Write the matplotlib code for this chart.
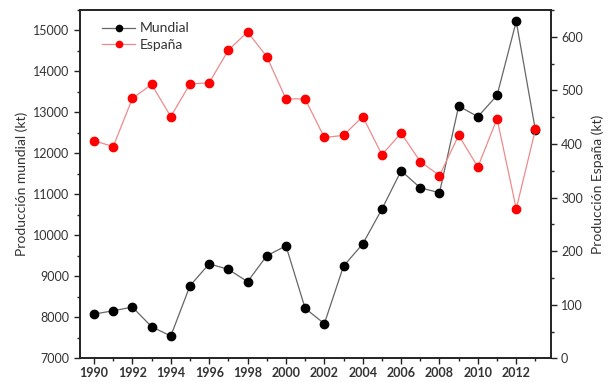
import matplotlib.pyplot as plt
from matplotlib.ticker import MultipleLocator
from matplotlib.lines import Line2D

plt.rcParams['font.family'] = ['Lato', 'DejaVu Sans']

years = list(range(1990, 2014))
mundial = [8080, 8160, 8250, 7770, 7545, 8770, 9305, 9170, 8870, 9500, 9745, 8220,
           7845, 9250, 9790, 10640, 11575, 11160, 11040, 13155, 12895, 13415, 15220, 12560]
espana = [406, 395, 485, 511, 451, 512, 514, 575, 609, 563, 484, 484,
          412, 416, 451, 380, 420, 367, 341, 416, 357, 447, 279, 427]

TXT = "#333333"
BLACK_LINE = "#666666"
RED_LINE = "#f08a8a"

fig = plt.figure(figsize=(6.08, 3.82), dpi=100)
ax = fig.add_axes([0.1316, 0.062, 0.774, 0.912])
ax.plot(years, mundial, color=BLACK_LINE, lw=0.9, marker="o", ms=6,
        mfc="black", mec="black", zorder=3)
ax.set_xlim(1989.27, 2013.79)
ax.set_ylim(7000, 15500)
ax.xaxis.set_major_locator(MultipleLocator(2))
ax.xaxis.set_minor_locator(MultipleLocator(1))
ax.yaxis.set_major_locator(MultipleLocator(1000))
ax.yaxis.set_minor_locator(MultipleLocator(500))
ax.set_ylabel("Producción mundial (kt)", fontsize=10, color=TXT, labelpad=4)

ax2 = ax.twinx()
ax2.plot(years, espana, color=RED_LINE, lw=0.9, marker="o", ms=6,
         mfc="#ff0000", mec="#ff0000", zorder=3)
ax2.set_ylim(0, 650)
ax2.yaxis.set_major_locator(MultipleLocator(100))
ax2.yaxis.set_minor_locator(MultipleLocator(50))
ax2.set_ylabel("Producción España (kt)", fontsize=10, color=TXT, labelpad=6)

for a in (ax, ax2):
    for s in a.spines.values():
        s.set_linewidth(1.2)
        s.set_color("#222222")
    a.tick_params(which="major", direction="out", length=4, width=1, colors="#222222",
                  labelcolor=TXT, labelsize=9)
    a.tick_params(which="minor", direction="out", length=2.5, width=1, colors="#222222")
for lab in ax.get_xticklabels():
    lab.set_fontweight("bold")
ax.tick_params(axis="x", pad=2)

handles = [
    Line2D([], [], color=BLACK_LINE, lw=0.9, marker="o", ms=4.5, mfc="black", mec="black"),
    Line2D([], [], color=RED_LINE, lw=0.9, marker="o", ms=4.5, mfc="#ff0000", mec="#ff0000"),
]
ax2.legend(handles, ["Mundial", "España"], loc="upper left", frameon=False,
           fontsize=10, handlelength=2.4, handletextpad=0.3, labelspacing=0.3,
           bbox_to_anchor=(0.02, 1.0), labelcolor=TXT)

fig.savefig("out.png", dpi=100)
